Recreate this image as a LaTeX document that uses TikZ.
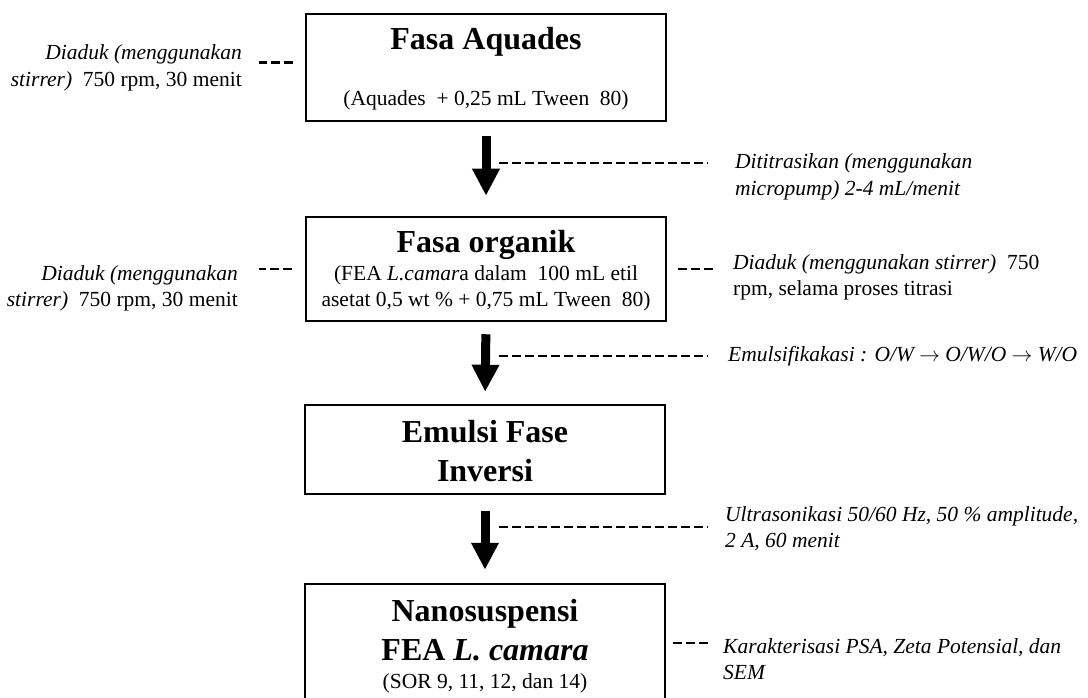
\documentclass[tikz,border=0pt]{standalone}
\usepackage{fontspec}
\setmainfont{Liberation Serif}
\usetikzlibrary{arrows.meta}
\begin{document}
\begin{tikzpicture}
[x=1pt, y=-1pt,
 every node/.style={inner sep=0pt, font=\fontsize{21.5}{26.5}\selectfont},
 kotak/.style={draw, line width=2.5pt, minimum width=360pt},
 judul/.style={align=center, font=\fontsize{32}{39}\selectfont\bfseries},
 ket/.style={align=left, font=\fontsize{21.5}{26.5}\selectfont\itshape},
 panah/.style={line width=9pt, -{Triangle[width=26pt,length=27pt]}},
 putus/.style={line width=2.8pt, dash pattern=on 9pt off 4pt}]
\useasboundingbox (0,0) rectangle (1088,698);

% kotak
\node[kotak, minimum height=107pt] (aquades) at (486,67.5) {};
\node[kotak, minimum height=104pt] (organik) at (486,269) {};
\node[kotak, minimum height=89pt] (emulsi) at (485,449.5) {};
\node[kotak, minimum height=118pt] (nano) at (485,643) {};

% isi kotak
\node[judul] (jaquades) at (486,42) {Fasa Aquades};
\node (saquades) at (486,100) {(Aquades\ \ + 0,25 mL Tween\ \ 80)};
\node[judul] (jorganik) at (486,245) {Fasa organik};
\node[align=center] (sorganik) at (486,288.5)
  {(FEA \textit{L.camar}a dalam\ \ 100 mL etil\\asetat 0,5 wt \% + 0,75 mL Tween\ \ 80)};
\node[judul] (jemulsi) at (485,451) {Emulsi Fase\\Inversi};
\node[judul] (jnano) at (485,630) {Nanosuspensi\\FEA \textit{L. camara}};
\node (snano) at (485,683) {(SOR 9, 11, 12, dan 14)};

% keterangan
\node[align=right, anchor=east] (aduk1) at (242,68)
  {\textit{Diaduk (menggunakan}\\\textit{stirrer)}\ \ 750 rpm, 30 menit};
\node[align=right, anchor=east] (aduk2) at (238,288.5)
  {\textit{Diaduk (menggunakan}\\\textit{stirrer)}\ \ 750 rpm, 30 menit};
\node[ket, anchor=west] (titrasi) at (735,177)
  {Dititrasikan (menggunakan\\micropump) 2-4 mL/menit};
\node[align=left, anchor=west] (aduk3) at (733,277.5)
  {\textit{Diaduk (menggunakan stirrer)}\ \ 750\\rpm, selama proses titrasi};
\node[ket, anchor=west] (emulsifikasi) at (728,356)
  {Emulsifikakasi : O/W $\rightarrow$ O/W/O $\rightarrow$ W/O};
\node[ket, anchor=west] (sonikasi) at (725,528.5)
  {Ultrasonikasi 50/60 Hz, 50 \% amplitude,\\2 A, 60 menit};
\node[ket, anchor=west] (karakter) at (723,659)
  {Karakterisasi PSA, Zeta Potensial, dan\\SEM};

% panah
\draw[panah, shorten <=14pt, shorten >=20pt] (aquades.south) -- (organik.north);
\draw[panah, shorten <=12pt, shorten >=12pt] (organik.south) -- (emulsi.north);
\draw[panah, shorten <=16pt, shorten >=13pt] (emulsi.south) -- (nano.north);

% garis putus
\coordinate (p1) at (499,163);
\coordinate (p2) at (499,356);
\coordinate (p3) at (499,527);
\draw[putus, shorten >=27pt] (p1) -- (p1 -| titrasi.west);
\draw[putus, shorten >=20pt] (p2) -- (p2 -| emulsifikasi.west);
\draw[putus, shorten >=17pt] (p3) -- (p3 -| sonikasi.west);
\draw[putus, shorten <=12pt, shorten >=17pt] ([yshift=5pt]aquades.west) -- ([yshift=5pt]aquades.west -| aduk1.east);
\draw[putus, shorten <=13pt, shorten >=21pt] (organik.west) -- (organik.west -| aduk2.east);
\draw[putus, shorten <=11pt, shorten >=20pt] (organik.east) -- (organik.east -| aduk3.west);
\draw[putus, shorten <=7pt, shorten >=15pt] (nano.east) -- (nano.east -| karakter.west);
\end{tikzpicture}
\end{document}
